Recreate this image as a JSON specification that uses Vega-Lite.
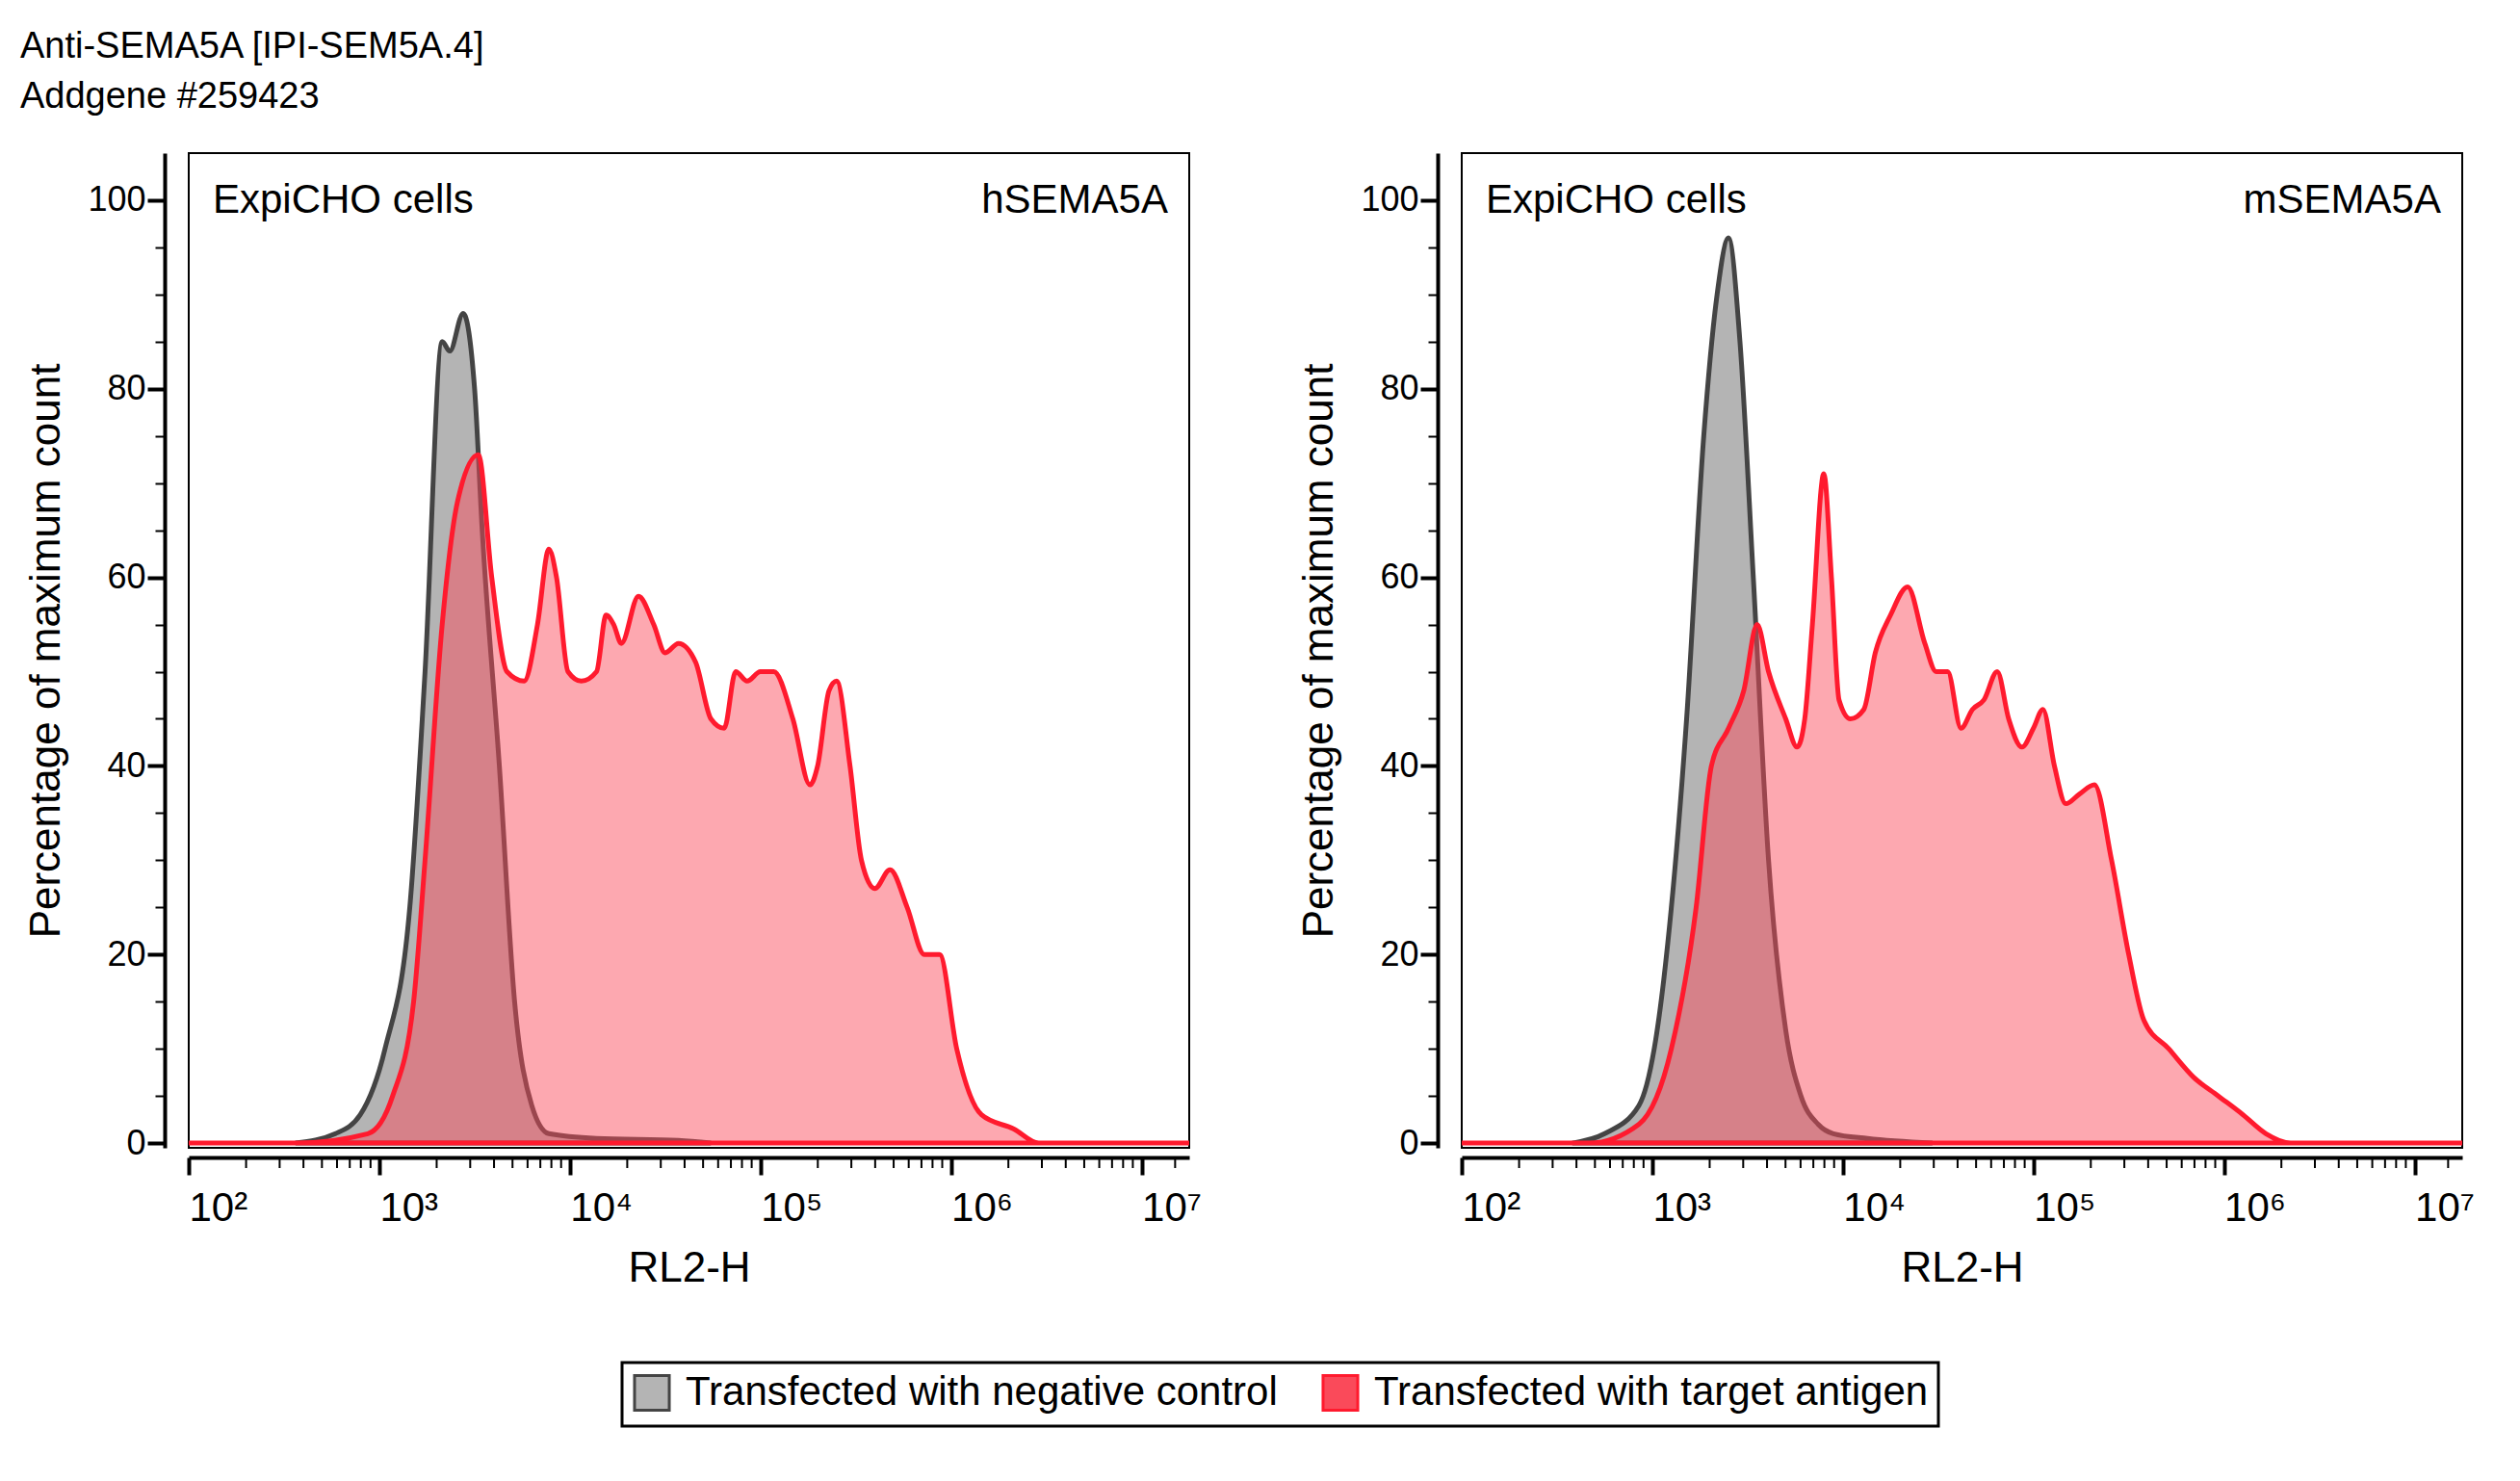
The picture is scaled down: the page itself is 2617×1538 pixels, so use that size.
{
  "$schema": "https://vega.github.io/schema/vega-lite/v6.json",
  "background": "white",
  "padding": {"left": 20, "top": 30, "right": 20, "bottom": 20},
  "title": {"text": ["Anti-SEMA5A [IPI-SEM5A.4]", "Addgene #259423"], "anchor": "start", "frame": "bounds", "fontSize": 38, "fontWeight": "normal", "font": "Liberation Sans", "lineHeight": 52, "offset": 38, "dx": -5},
  "datasets": {
    "curves": [
      {"p": "h", "s": "neg", "x": 2.56, "y": 0}, {"p": "h", "s": "neg", "x": 2.77, "y": 1}, {"p": "h", "s": "neg", "x": 2.9, "y": 3},
      {"p": "h", "s": "neg", "x": 3.03, "y": 10}, {"p": "h", "s": "neg", "x": 3.16, "y": 25}, {"p": "h", "s": "neg", "x": 3.24, "y": 50},
      {"p": "h", "s": "neg", "x": 3.33, "y": 85}, {"p": "h", "s": "neg", "x": 3.37, "y": 84}, {"p": "h", "s": "neg", "x": 3.44, "y": 88},
      {"p": "h", "s": "neg", "x": 3.5, "y": 80}, {"p": "h", "s": "neg", "x": 3.54, "y": 65}, {"p": "h", "s": "neg", "x": 3.63, "y": 40},
      {"p": "h", "s": "neg", "x": 3.71, "y": 15}, {"p": "h", "s": "neg", "x": 3.8, "y": 4}, {"p": "h", "s": "neg", "x": 3.89, "y": 1},
      {"p": "h", "s": "neg", "x": 4.14, "y": 0.5}, {"p": "h", "s": "neg", "x": 4.57, "y": 0.3}, {"p": "h", "s": "neg", "x": 4.74, "y": 0},
      {"p": "h", "s": "tgt", "x": 2.0, "y": 0}, {"p": "h", "s": "tgt", "x": 2.56, "y": 0}, {"p": "h", "s": "tgt", "x": 2.94, "y": 1},
      {"p": "h", "s": "tgt", "x": 3.07, "y": 5}, {"p": "h", "s": "tgt", "x": 3.18, "y": 15}, {"p": "h", "s": "tgt", "x": 3.24, "y": 30},
      {"p": "h", "s": "tgt", "x": 3.33, "y": 55}, {"p": "h", "s": "tgt", "x": 3.41, "y": 68}, {"p": "h", "s": "tgt", "x": 3.52, "y": 73},
      {"p": "h", "s": "tgt", "x": 3.59, "y": 60}, {"p": "h", "s": "tgt", "x": 3.67, "y": 50}, {"p": "h", "s": "tgt", "x": 3.76, "y": 49},
      {"p": "h", "s": "tgt", "x": 3.83, "y": 55}, {"p": "h", "s": "tgt", "x": 3.89, "y": 63}, {"p": "h", "s": "tgt", "x": 3.93, "y": 60},
      {"p": "h", "s": "tgt", "x": 3.99, "y": 50}, {"p": "h", "s": "tgt", "x": 4.06, "y": 49}, {"p": "h", "s": "tgt", "x": 4.14, "y": 50},
      {"p": "h", "s": "tgt", "x": 4.19, "y": 56}, {"p": "h", "s": "tgt", "x": 4.23, "y": 55}, {"p": "h", "s": "tgt", "x": 4.27, "y": 53},
      {"p": "h", "s": "tgt", "x": 4.36, "y": 58}, {"p": "h", "s": "tgt", "x": 4.44, "y": 55}, {"p": "h", "s": "tgt", "x": 4.5, "y": 52},
      {"p": "h", "s": "tgt", "x": 4.57, "y": 53}, {"p": "h", "s": "tgt", "x": 4.66, "y": 51}, {"p": "h", "s": "tgt", "x": 4.74, "y": 45},
      {"p": "h", "s": "tgt", "x": 4.81, "y": 44}, {"p": "h", "s": "tgt", "x": 4.87, "y": 50}, {"p": "h", "s": "tgt", "x": 4.93, "y": 49},
      {"p": "h", "s": "tgt", "x": 5.0, "y": 50}, {"p": "h", "s": "tgt", "x": 5.07, "y": 50}, {"p": "h", "s": "tgt", "x": 5.17, "y": 45},
      {"p": "h", "s": "tgt", "x": 5.26, "y": 38}, {"p": "h", "s": "tgt", "x": 5.3, "y": 40}, {"p": "h", "s": "tgt", "x": 5.36, "y": 48},
      {"p": "h", "s": "tgt", "x": 5.4, "y": 49}, {"p": "h", "s": "tgt", "x": 5.47, "y": 40}, {"p": "h", "s": "tgt", "x": 5.53, "y": 30},
      {"p": "h", "s": "tgt", "x": 5.6, "y": 27}, {"p": "h", "s": "tgt", "x": 5.68, "y": 29}, {"p": "h", "s": "tgt", "x": 5.77, "y": 25},
      {"p": "h", "s": "tgt", "x": 5.86, "y": 20}, {"p": "h", "s": "tgt", "x": 5.94, "y": 20}, {"p": "h", "s": "tgt", "x": 6.03, "y": 10},
      {"p": "h", "s": "tgt", "x": 6.16, "y": 3}, {"p": "h", "s": "tgt", "x": 6.33, "y": 1.5}, {"p": "h", "s": "tgt", "x": 6.46, "y": 0},
      {"p": "h", "s": "tgt", "x": 7.25, "y": 0},
      {"p": "m", "s": "neg", "x": 2.58, "y": 0}, {"p": "m", "s": "neg", "x": 2.75, "y": 1}, {"p": "m", "s": "neg", "x": 2.93, "y": 4},
      {"p": "m", "s": "neg", "x": 3.01, "y": 10}, {"p": "m", "s": "neg", "x": 3.1, "y": 25}, {"p": "m", "s": "neg", "x": 3.18, "y": 45},
      {"p": "m", "s": "neg", "x": 3.27, "y": 75}, {"p": "m", "s": "neg", "x": 3.34, "y": 90}, {"p": "m", "s": "neg", "x": 3.4, "y": 96},
      {"p": "m", "s": "neg", "x": 3.46, "y": 85}, {"p": "m", "s": "neg", "x": 3.53, "y": 60}, {"p": "m", "s": "neg", "x": 3.61, "y": 30},
      {"p": "m", "s": "neg", "x": 3.7, "y": 12}, {"p": "m", "s": "neg", "x": 3.78, "y": 5}, {"p": "m", "s": "neg", "x": 3.87, "y": 2},
      {"p": "m", "s": "neg", "x": 3.95, "y": 1}, {"p": "m", "s": "neg", "x": 4.13, "y": 0.5}, {"p": "m", "s": "neg", "x": 4.47, "y": 0},
      {"p": "m", "s": "tgt", "x": 2.0, "y": 0}, {"p": "m", "s": "tgt", "x": 2.67, "y": 0}, {"p": "m", "s": "tgt", "x": 2.93, "y": 2},
      {"p": "m", "s": "tgt", "x": 3.1, "y": 10}, {"p": "m", "s": "tgt", "x": 3.23, "y": 25}, {"p": "m", "s": "tgt", "x": 3.31, "y": 40},
      {"p": "m", "s": "tgt", "x": 3.4, "y": 44}, {"p": "m", "s": "tgt", "x": 3.48, "y": 48}, {"p": "m", "s": "tgt", "x": 3.55, "y": 55},
      {"p": "m", "s": "tgt", "x": 3.61, "y": 50}, {"p": "m", "s": "tgt", "x": 3.7, "y": 45}, {"p": "m", "s": "tgt", "x": 3.76, "y": 42},
      {"p": "m", "s": "tgt", "x": 3.8, "y": 45}, {"p": "m", "s": "tgt", "x": 3.84, "y": 55}, {"p": "m", "s": "tgt", "x": 3.9, "y": 71},
      {"p": "m", "s": "tgt", "x": 3.94, "y": 60}, {"p": "m", "s": "tgt", "x": 3.98, "y": 47}, {"p": "m", "s": "tgt", "x": 4.04, "y": 45},
      {"p": "m", "s": "tgt", "x": 4.11, "y": 46}, {"p": "m", "s": "tgt", "x": 4.17, "y": 52}, {"p": "m", "s": "tgt", "x": 4.25, "y": 56},
      {"p": "m", "s": "tgt", "x": 4.34, "y": 59}, {"p": "m", "s": "tgt", "x": 4.43, "y": 53}, {"p": "m", "s": "tgt", "x": 4.49, "y": 50},
      {"p": "m", "s": "tgt", "x": 4.55, "y": 50}, {"p": "m", "s": "tgt", "x": 4.62, "y": 44}, {"p": "m", "s": "tgt", "x": 4.68, "y": 46},
      {"p": "m", "s": "tgt", "x": 4.74, "y": 47}, {"p": "m", "s": "tgt", "x": 4.81, "y": 50}, {"p": "m", "s": "tgt", "x": 4.87, "y": 45},
      {"p": "m", "s": "tgt", "x": 4.94, "y": 42}, {"p": "m", "s": "tgt", "x": 5.0, "y": 44}, {"p": "m", "s": "tgt", "x": 5.05, "y": 46},
      {"p": "m", "s": "tgt", "x": 5.11, "y": 40}, {"p": "m", "s": "tgt", "x": 5.17, "y": 36}, {"p": "m", "s": "tgt", "x": 5.24, "y": 37},
      {"p": "m", "s": "tgt", "x": 5.32, "y": 38}, {"p": "m", "s": "tgt", "x": 5.41, "y": 30}, {"p": "m", "s": "tgt", "x": 5.5, "y": 20},
      {"p": "m", "s": "tgt", "x": 5.58, "y": 13}, {"p": "m", "s": "tgt", "x": 5.71, "y": 10}, {"p": "m", "s": "tgt", "x": 5.84, "y": 7},
      {"p": "m", "s": "tgt", "x": 5.97, "y": 5}, {"p": "m", "s": "tgt", "x": 6.1, "y": 3}, {"p": "m", "s": "tgt", "x": 6.22, "y": 1},
      {"p": "m", "s": "tgt", "x": 6.35, "y": 0}, {"p": "m", "s": "tgt", "x": 7.25, "y": 0}
    ],
    "minor": [
      {"x": 2.301}, {"x": 2.477}, {"x": 2.602}, {"x": 2.699}, {"x": 2.778}, {"x": 2.845}, {"x": 2.903}, {"x": 2.954},
      {"x": 3.301}, {"x": 3.477}, {"x": 3.602}, {"x": 3.699}, {"x": 3.778}, {"x": 3.845}, {"x": 3.903}, {"x": 3.954},
      {"x": 4.301}, {"x": 4.477}, {"x": 4.602}, {"x": 4.699}, {"x": 4.778}, {"x": 4.845}, {"x": 4.903}, {"x": 4.954},
      {"x": 5.301}, {"x": 5.477}, {"x": 5.602}, {"x": 5.699}, {"x": 5.778}, {"x": 5.845}, {"x": 5.903}, {"x": 5.954},
      {"x": 6.301}, {"x": 6.477}, {"x": 6.602}, {"x": 6.699}, {"x": 6.778}, {"x": 6.845}, {"x": 6.903}, {"x": 6.954},
      {"x": 7.176}
    ],
    "labels": [
      {"p": "h", "left": "ExpiCHO cells", "right": "hSEMA5A"},
      {"p": "m", "left": "ExpiCHO cells", "right": "mSEMA5A"}
    ]
  },
  "config": {
    "font": "Liberation Sans",
    "view": {"stroke": "black", "strokeWidth": 2},
    "axis": {
      "domainColor": "black", "domainWidth": 4, "tickColor": "black",
      "labelColor": "black", "titleColor": "black", "labelFontSize": 36,
      "titleFontSize": 44, "titleFontWeight": "normal", "grid": false
    },
    "legend": {
      "orient": "none", "legendX": 450, "legendY": 1256, "direction": "horizontal", "strokeColor": "black", "strokeWidth": 3, "padding": 10,
      "labelFontSize": 42, "labelLimit": 0, "symbolType": "square", "symbolSize": 1300, "symbolStrokeWidth": 3,
      "columnPadding": 40, "labelOffset": 14, "symbolOpacity": 1
    }
  },
  "resolve": {"scale": {"fill": "shared", "stroke": "shared", "fillOpacity": "shared"}, "legend": {"fill": "shared", "stroke": "shared", "fillOpacity": "shared"}},
  "spacing": 98,
  "hconcat": [
    {
      "width": 1039, "height": 1033,
      "layer": [
        {
          "data": {"name": "curves"},
          "transform": [{"filter": "datum.p == 'h'"}],
          "mark": {"type": "area", "strokeWidth": 5, "clip": true, "interpolate": "monotone"},
          "encoding": {
            "x": {"field": "x", "type": "quantitative", "scale": {"domain": [2, 7.25], "nice": false, "zero": false},
              "axis": {"title": "RL2-H", "offset": 10, "titlePadding": 20, "labelOverlap": false, "labelBound": false, "labelFlush": false,
                "values": [2, 3, 4, 5, 6, 7],
                "labelExpr": "'10' + ['²','³','⁴','⁵','⁶','⁷'][round(datum.value) - 2]",
                "labelAlign": "left", "labelDx": 17, "labelPadding": 14, "labelFontSize": 42,
                "tickSize": 18, "tickWidth": 4}},
            "y": {"field": "y", "type": "quantitative", "stack": null, "scale": {"domain": [-0.5, 105], "nice": false, "zero": false},
              "axis": {"title": "Percentage of maximum count", "offset": 25, "titlePadding": 20,
                "values": [0,5,10,15,20,25,30,35,40,45,50,55,60,65,70,75,80,85,90,95,100],
                "labelExpr": "datum.value % 20 == 0 ? datum.label : ''",
                "tickSize": {"condition": {"test": "datum.value % 20 == 0", "value": 18}, "value": 10},
                "tickWidth": {"condition": {"test": "datum.value % 20 == 0", "value": 4}, "value": 2}}},
            "fill": {"field": "s", "type": "nominal", "scale": {"domain": ["neg", "tgt"], "range": ["#b4b4b4", "#fa4a5a"]},
              "legend": {"title": null, "labelExpr": "datum.value == 'neg' ? 'Transfected with negative control' : 'Transfected with target antigen'"}},
            "stroke": {"field": "s", "type": "nominal", "scale": {"domain": ["neg", "tgt"], "range": ["#444444", "#ff1a2e"]}, "legend": {"title": null, "labelExpr": "datum.value == 'neg' ? 'Transfected with negative control' : 'Transfected with target antigen'"}},
            "fillOpacity": {"field": "s", "type": "nominal", "scale": {"domain": ["neg", "tgt"], "range": [1, 0.48]}, "legend": {"title": null, "labelExpr": "datum.value == 'neg' ? 'Transfected with negative control' : 'Transfected with target antigen'"}},
            "order": {"field": "s"}
          }
        },
        {
          "data": {"name": "minor"},
          "mark": {"type": "tick", "orient": "vertical", "size": 10, "thickness": 2, "color": "black", "opacity": 1, "yOffset": 16, "clip": false},
          "encoding": {"x": {"field": "x", "type": "quantitative"}, "y": {"datum": -0.5}}
        },
        {
          "data": {"name": "labels"},
          "transform": [{"filter": "datum.p == 'h'"}],
          "mark": {"type": "text", "align": "left", "baseline": "middle", "fontSize": 42, "dx": 25, "color": "black"},
          "encoding": {"text": {"field": "left"}, "x": {"datum": 2}, "y": {"datum": 100}}
        },
        {
          "data": {"name": "labels"},
          "transform": [{"filter": "datum.p == 'h'"}],
          "mark": {"type": "text", "align": "right", "baseline": "middle", "fontSize": 42, "dx": -22, "color": "black"},
          "encoding": {"text": {"field": "right"}, "x": {"datum": 7.25}, "y": {"datum": 100}}
        }
      ]
    },
    {
      "width": 1039, "height": 1033,
      "layer": [
        {
          "data": {"name": "curves"},
          "transform": [{"filter": "datum.p == 'm'"}],
          "mark": {"type": "area", "strokeWidth": 5, "clip": true, "interpolate": "monotone"},
          "encoding": {
            "x": {"field": "x", "type": "quantitative", "scale": {"domain": [2, 7.25], "nice": false, "zero": false},
              "axis": {"title": "RL2-H", "offset": 10, "titlePadding": 20, "labelOverlap": false, "labelBound": false, "labelFlush": false,
                "values": [2, 3, 4, 5, 6, 7],
                "labelExpr": "'10' + ['²','³','⁴','⁵','⁶','⁷'][round(datum.value) - 2]",
                "labelAlign": "left", "labelDx": 17, "labelPadding": 14, "labelFontSize": 42,
                "tickSize": 18, "tickWidth": 4}},
            "y": {"field": "y", "type": "quantitative", "stack": null, "scale": {"domain": [-0.5, 105], "nice": false, "zero": false},
              "axis": {"title": "Percentage of maximum count", "offset": 25, "titlePadding": 20,
                "values": [0,5,10,15,20,25,30,35,40,45,50,55,60,65,70,75,80,85,90,95,100],
                "labelExpr": "datum.value % 20 == 0 ? datum.label : ''",
                "tickSize": {"condition": {"test": "datum.value % 20 == 0", "value": 18}, "value": 10},
                "tickWidth": {"condition": {"test": "datum.value % 20 == 0", "value": 4}, "value": 2}}},
            "fill": {"field": "s", "type": "nominal", "scale": {"domain": ["neg", "tgt"], "range": ["#b4b4b4", "#fa4a5a"]},
              "legend": {"title": null, "labelExpr": "datum.value == 'neg' ? 'Transfected with negative control' : 'Transfected with target antigen'"}},
            "stroke": {"field": "s", "type": "nominal", "scale": {"domain": ["neg", "tgt"], "range": ["#444444", "#ff1a2e"]}, "legend": {"title": null, "labelExpr": "datum.value == 'neg' ? 'Transfected with negative control' : 'Transfected with target antigen'"}},
            "fillOpacity": {"field": "s", "type": "nominal", "scale": {"domain": ["neg", "tgt"], "range": [1, 0.48]}, "legend": {"title": null, "labelExpr": "datum.value == 'neg' ? 'Transfected with negative control' : 'Transfected with target antigen'"}},
            "order": {"field": "s"}
          }
        },
        {
          "data": {"name": "minor"},
          "mark": {"type": "tick", "orient": "vertical", "size": 10, "thickness": 2, "color": "black", "opacity": 1, "yOffset": 16, "clip": false},
          "encoding": {"x": {"field": "x", "type": "quantitative"}, "y": {"datum": -0.5}}
        },
        {
          "data": {"name": "labels"},
          "transform": [{"filter": "datum.p == 'm'"}],
          "mark": {"type": "text", "align": "left", "baseline": "middle", "fontSize": 42, "dx": 25, "color": "black"},
          "encoding": {"text": {"field": "left"}, "x": {"datum": 2}, "y": {"datum": 100}}
        },
        {
          "data": {"name": "labels"},
          "transform": [{"filter": "datum.p == 'm'"}],
          "mark": {"type": "text", "align": "right", "baseline": "middle", "fontSize": 42, "dx": -22, "color": "black"},
          "encoding": {"text": {"field": "right"}, "x": {"datum": 7.25}, "y": {"datum": 100}}
        }
      ]
    }
  ]
}
